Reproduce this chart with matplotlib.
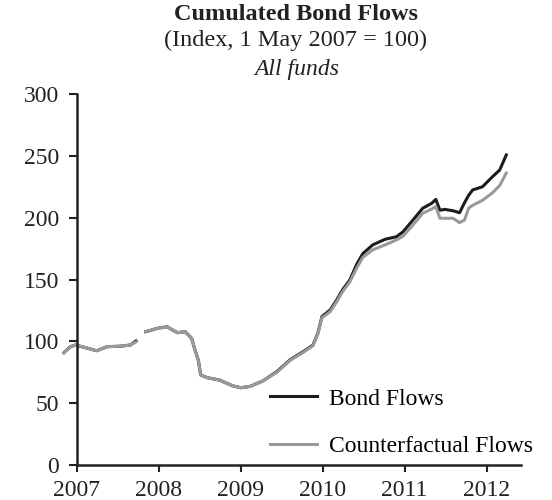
import numpy as np
import matplotlib
matplotlib.use("Agg")
import matplotlib.pyplot as plt

# ------------------ Data ------------------
years = [2006.84, 2006.92, 2006.98, 2007.12, 2007.24, 2007.37, 2007.52, 2007.65, 2007.72,
         2007.78,
         2007.84, 2007.98, 2008.10, 2008.17, 2008.23, 2008.32, 2008.40, 2008.44, 2008.48,
         2008.51, 2008.59, 2008.74, 2008.90, 2009.00, 2009.11, 2009.27, 2009.44, 2009.60,
         2009.76, 2009.88, 2009.94, 2009.99, 2010.09, 2010.17, 2010.24, 2010.33, 2010.42,
         2010.49, 2010.61, 2010.76, 2010.90, 2010.98, 2011.10, 2011.22, 2011.33, 2011.38,
         2011.43, 2011.49, 2011.59, 2011.67, 2011.73, 2011.78, 2011.83, 2011.95, 2012.07,
         2012.16, 2012.24]

bond_flows = [90.8, 95.7, 97.0, 94.6, 92.4, 95.7, 96.0, 97.0, 100.3,
              np.nan,
              107.8, 110.5, 111.8, 109.0, 107.0, 107.8, 102.4, 93.0, 85.0,
              72.8, 70.6, 68.7, 64.0, 62.5, 63.5, 68.0, 75.5, 85.0,
              91.6, 97.0, 106.5, 120.0, 125.3, 133.4, 141.5, 149.6, 163.0,
              171.0, 178.0, 182.5, 184.6, 188.6, 198.0, 207.6, 211.6, 214.8,
              206.0, 206.7, 205.6, 204.0, 212.0, 218.0, 222.4, 225.0, 233.0,
              238.5, 250.7]

counterfactual = [90.8, 95.7, 97.0, 94.6, 92.4, 95.7, 96.0, 97.0, 99.5,
                  np.nan,
                  107.8, 110.5, 111.8, 109.0, 107.0, 107.8, 102.4, 93.0, 85.0,
                  72.8, 70.6, 68.7, 64.0, 62.5, 63.5, 68.0, 75.0, 84.5,
                  91.0, 96.5, 106.0, 119.0, 124.0, 132.0, 140.0, 148.0, 160.0,
                  168.0, 174.0, 178.0, 182.0, 185.0, 194.0, 203.5, 207.0, 209.0,
                  199.5, 199.5, 199.5, 196.0, 198.0, 207.6, 210.0, 214.0, 220.0,
                  226.0, 236.0]

year_ticks = [2007, 2008, 2009, 2010, 2011, 2012]
value_ticks = [0, 50, 100, 150, 200, 250, 300]

# ------------------ Plot ------------------
plt.rcParams['font.family'] = ['Liberation Serif', 'DejaVu Serif']
fs = 17

fig = plt.figure(figsize=(5.52, 5.0), dpi=100)
ax = fig.add_axes([77/552, 35/500, (521-77)/552, (465-94)/500])

ax.plot(years, bond_flows, color='#1c1c1c', lw=2.2, label='Bond Flows', clip_on=False)
ax.plot(years, counterfactual, color='#9a9a9a', lw=2.2, label='Counterfactual Flows', clip_on=False)

ax.set_xlim(2007, 2012.42)
ax.set_ylim(0, 300)
ax.set_xticks(year_ticks)
ax.set_yticks(value_ticks)
ax.tick_params(axis='both', direction='out', width=1.5, labelsize=fs, colors='#222222')
ax.tick_params(axis='y', length=6, pad=7)
ax.tick_params(axis='x', length=5, pad=6)

for side in ['top', 'right']:
    ax.spines[side].set_visible(False)
for side in ['left', 'bottom']:
    ax.spines[side].set_linewidth(1.8)
    ax.spines[side].set_color('#222222')

ax.legend(loc='upper left', bbox_to_anchor=(270/552, 1 - 388/500),
          bbox_transform=fig.transFigure, frameon=False, fontsize=fs,
          handlelength=2.0, handletextpad=0.5, labelspacing=1.1,
          borderpad=0, borderaxespad=0)

fig.text(296/552, 1 - 15/500, 'Cumulated Bond Flows', ha='center', va='center',
         fontsize=17.5, fontweight='bold', color='#222222')
fig.text(296/552, 1 - 40/500, '(Index, 1 May 2007 = 100)', ha='center', va='center',
         fontsize=17.5, color='#222222')
fig.text(297/552, 1 - 70/500, 'All funds', ha='center', va='center',
         fontsize=17, style='italic', color='#222222')

fig.savefig('out.png', dpi=100)
